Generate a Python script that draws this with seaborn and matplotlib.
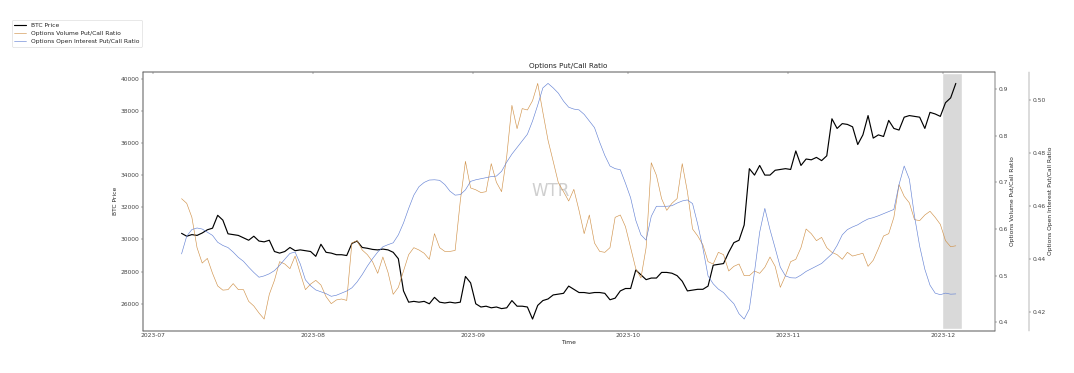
import numpy as np
import pandas as pd
import seaborn as sns
import matplotlib.pyplot as plt

# daily samples, 2023-07-06 12:00 -> 2023-12-03 12:00
dates = pd.date_range("2023-07-06 12:00", periods=151, freq="D")

btc_price = [
    30380, 30200, 30300, 30250, 30400, 30600, 30700, 31500, 31200, 30350,
    30300, 30250, 30100, 29950, 30200, 29900, 29850, 29950, 29250, 29150,
    29250, 29500, 29300, 29350, 29300, 29250, 28950, 29700, 29200, 29150,
    29050, 29050, 29000, 29750, 29900, 29500, 29450, 29380, 29350, 29400,
    29350, 29200, 28800, 26800, 26100, 26150, 26100, 26150, 26000, 26400,
    26100, 26050, 26100, 26050, 26100, 27700, 27300, 26000, 25800, 25850,
    25750, 25800, 25700, 25750, 26200, 25850, 25850, 25800, 25050, 25900,
    26200, 26300, 26550, 26600, 26650, 27100, 26900, 26700, 26700, 26650,
    26700, 26700, 26650, 26250, 26350, 26800, 26950, 26950, 28100, 27800,
    27500, 27600, 27600, 27950, 27950, 27900, 27750, 27400, 26800, 26850,
    26900, 26900, 27100, 28400, 28450, 28500, 29200, 29800, 29950, 30900,
    34400, 34000, 34600, 34000, 34000, 34300, 34350, 34400, 34350, 35500,
    34600, 35000, 34950, 35100, 34900, 35200, 37500, 36900, 37200, 37150,
    37000, 35900, 36500, 37700, 36300, 36500, 36400, 37400, 36900, 36800,
    37600, 37700, 37650, 37600, 36900, 37900, 37800, 37650, 38500, 38800,
    39700,
]

vol_pcr = [
    0.665, 0.655, 0.625, 0.560, 0.527, 0.537, 0.505, 0.478, 0.469, 0.470,
    0.483, 0.470, 0.470, 0.445, 0.435, 0.420, 0.407, 0.460, 0.490, 0.530,
    0.525, 0.515, 0.542, 0.505, 0.470, 0.482, 0.490, 0.480, 0.455, 0.440,
    0.448, 0.450, 0.447, 0.570, 0.575, 0.555, 0.545, 0.530, 0.505, 0.540,
    0.507, 0.460, 0.475, 0.510, 0.545, 0.560, 0.555, 0.548, 0.535, 0.590,
    0.560, 0.552, 0.552, 0.554, 0.660, 0.745, 0.688, 0.684, 0.678, 0.680,
    0.740, 0.700, 0.680, 0.756, 0.865, 0.815, 0.858, 0.855, 0.875, 0.912,
    0.850, 0.790, 0.745, 0.699, 0.680, 0.660, 0.685, 0.640, 0.590, 0.630,
    0.570, 0.552, 0.550, 0.560, 0.625, 0.630, 0.605, 0.560, 0.515, 0.495,
    0.560, 0.742, 0.715, 0.665, 0.640, 0.655, 0.665, 0.740, 0.680, 0.600,
    0.585, 0.566, 0.530, 0.525, 0.550, 0.545, 0.510, 0.520, 0.525, 0.500,
    0.500, 0.510, 0.505, 0.518, 0.540, 0.520, 0.475, 0.500, 0.530, 0.535,
    0.560, 0.600, 0.590, 0.575, 0.582, 0.560, 0.550, 0.545, 0.535, 0.550,
    0.542, 0.545, 0.548, 0.520, 0.533, 0.558, 0.585, 0.590, 0.625, 0.695,
    0.670, 0.656, 0.620, 0.618, 0.630, 0.638, 0.625, 0.610, 0.575, 0.562,
    0.564,
]

oi_pcr = [
    0.4418, 0.4485, 0.4510, 0.4516, 0.4512, 0.4500, 0.4488, 0.4462, 0.4450, 0.4442,
    0.4425, 0.4405, 0.4390, 0.4368, 0.4348, 0.4330, 0.4335, 0.4343, 0.4355, 0.4375,
    0.4398, 0.4420, 0.4425, 0.4380, 0.4320, 0.4298, 0.4282, 0.4275, 0.4268, 0.4258,
    0.4262, 0.4270, 0.4278, 0.4290, 0.4312, 0.4340, 0.4372, 0.4400, 0.4425, 0.4445,
    0.4453, 0.4460, 0.4490, 0.4535, 0.4590, 0.4640, 0.4672, 0.4688, 0.4697, 0.4698,
    0.4696, 0.4680, 0.4655, 0.4640, 0.4642, 0.4660, 0.4692, 0.4698, 0.4702, 0.4706,
    0.4710, 0.4712, 0.4730, 0.4765, 0.4795, 0.4820, 0.4845, 0.4870, 0.4920, 0.4980,
    0.5045, 0.5062, 0.5045, 0.5025, 0.4995, 0.4972, 0.4965, 0.4962, 0.4945, 0.4920,
    0.4895, 0.4840, 0.4790, 0.4750, 0.4740, 0.4736, 0.4685, 0.4630, 0.4545, 0.4490,
    0.4470, 0.4560, 0.4598, 0.4598, 0.4598, 0.4600, 0.4610, 0.4618, 0.4622, 0.4608,
    0.4530, 0.4440, 0.4335, 0.4305, 0.4285, 0.4272, 0.4250, 0.4230, 0.4192, 0.4172,
    0.4210, 0.4350, 0.4500, 0.4590, 0.4510, 0.4440, 0.4368, 0.4335, 0.4328, 0.4327,
    0.4338, 0.4352, 0.4362, 0.4372, 0.4382, 0.4400, 0.4418, 0.4450, 0.4490, 0.4510,
    0.4520, 0.4528, 0.4540, 0.4550, 0.4555, 0.4562, 0.4570, 0.4578, 0.4586, 0.4680,
    0.4750, 0.4700, 0.4560, 0.4447, 0.4360, 0.4300, 0.4270, 0.4264, 0.4270, 0.4266,
    0.4267,
]

# shaded "latest" window
span_start = pd.Timestamp("2023-12-01")
span_end = pd.Timestamp("2023-12-04 14:00")

sns.set_style("white")
plt.rcParams["font.family"] = ["DejaVu Sans"]
plt.rcParams["font.size"] = 10.8
plt.rcParams["axes.titlesize"] = 13
plt.rcParams["axes.edgecolor"] = "#666666"
plt.rcParams["text.color"] = "#222222"
plt.rcParams["xtick.color"] = "#444444"
plt.rcParams["ytick.color"] = "#444444"

fig, ax = plt.subplots(figsize=(26.85, 9.325), dpi=40)
fig.subplots_adjust(left=0.133, right=0.926, bottom=0.113, top=0.808)

ax2 = ax.twinx()
ax3 = ax.twinx()
ax3.spines["right"].set_position(("axes", 1.04))

sns.lineplot(x=dates, y=btc_price, ax=ax, color="black", lw=2.1, label="BTC Price", legend=False)
sns.lineplot(x=dates, y=vol_pcr, ax=ax2, color="#d0924a", lw=1.1,
             label="Options Volume Put/Call Ratio", legend=False)
sns.lineplot(x=dates, y=oi_pcr, ax=ax3, color="#6482d4", lw=1.1,
             label="Options Open Interest Put/Call Ratio", legend=False)

# keep the x range fixed to the data before adding the span
ax.autoscale_view()
ax.set_autoscalex_on(False)
ax.axvspan(span_start, span_end, ymin=0.01, ymax=0.99, color="#d9d9d9", zorder=0)

ax.set_title("Options Put/Call Ratio")
ax.set_xlabel("Time")
ax.set_ylabel("BTC Price")
ax2.set_ylabel("Options Volume Put/Call Ratio")
ax3.set_ylabel("Options Open Interest Put/Call Ratio")

ax.tick_params(axis="x", direction="in", top=True, length=3)
for a in (ax, ax2, ax3):
    a.tick_params(axis="y", direction="out", length=3)

ax.text(0.479, 0.539, "WTR", transform=ax.transAxes, fontsize=30,
        color="#bbbbbb", alpha=0.7, ha="center", va="center")

handles = ax.get_lines() + ax2.get_lines() + ax3.get_lines()
fig.legend(handles, [h.get_label() for h in handles], loc="upper left",
           bbox_to_anchor=(0.011, 0.946), borderaxespad=0)

fig.savefig("out.png", dpi=40)
